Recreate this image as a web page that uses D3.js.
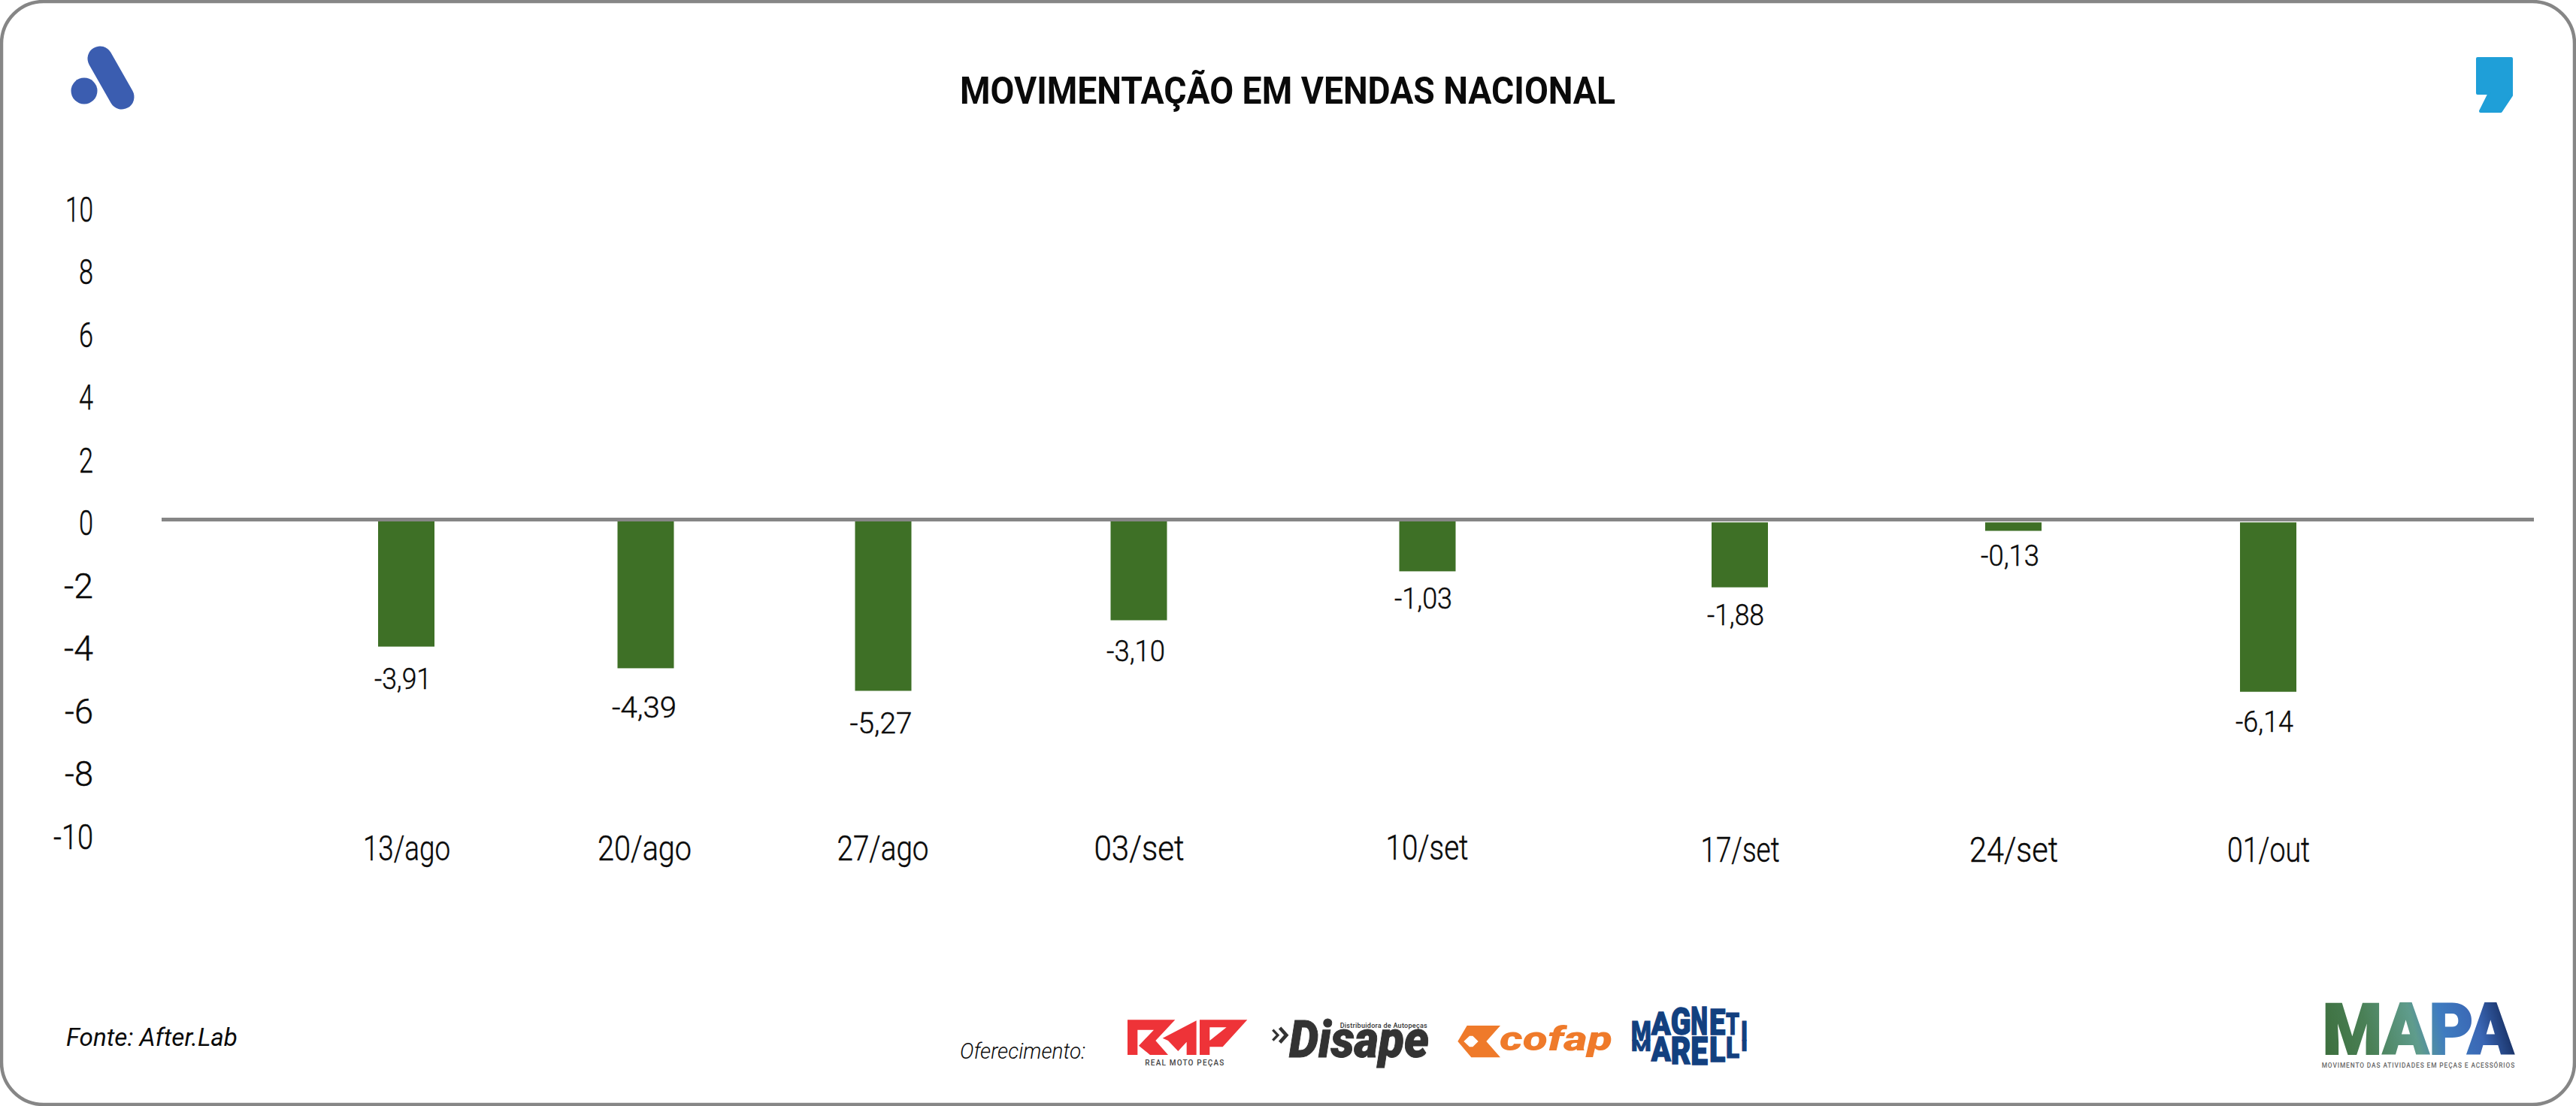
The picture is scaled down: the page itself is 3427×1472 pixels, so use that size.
<!DOCTYPE html>
<html lang="pt-BR">
<head>
<meta charset="utf-8">
<title>Movimentação em vendas nacional</title>
<script src="https://cdn.jsdelivr.net/npm/d3@7/dist/d3.min.js"></script>
<style>
html,body{margin:0;padding:0;background:#fff;}
svg{display:block;}
text{font-family:Roboto,"Open Sans",sans-serif;fill:#0a0a0a;}
.light{stroke:#0a0a0a;stroke-width:0.45px;}
</style>
</head>
<body>
<script>
// ---- DATA ----
const titleText = "MOVIMENTAÇÃO EM VENDAS NACIONAL";
const categories = ["13/ago","20/ago","27/ago","03/set","10/set","17/set","24/set","01/out"];
// printed value labels
const valueLabels = ["-3,91","-4,39","-5,27","-3,10","-1,03","-1,88","-0,13","-6,14"];
// drawn bar ends on the axis: in the source picture the bars do not follow their printed labels exactly
const barEnds = [-4.05,-4.74,-5.46,-3.21,-1.65,-2.16,-0.36,-5.49];
// drawn bar starts on the axis (the last three sit just under the zero line)
const barStarts = [0,0,0,0,0,-0.09,-0.09,-0.09];
const yTicks = [10,8,6,4,2,0,-2,-4,-6,-8,-10];

// ---- LAYOUT ----
const W = 3427, H = 1472;
const BAR_W = 75, GREEN = "#3e7026", GREY = "#868686";
const AX_LEFT = 215, AX_RIGHT = 3371;
const y = d3.scaleLinear().domain([-10,10]).range([1109,274]);
const x = d3.scaleOrdinal(categories,[540.5,859,1175,1515,1899,2314.5,2678.5,3017.5]);
const tickBase = d3.scaleOrdinal(categories,[1144.5,1144.5,1144.5,1144.5,1143.5,1146.5,1146.5,1146.5]);
const tickCx = d3.scaleOrdinal(categories,[0,-2,-1,0,-1,0,0,0]);
const tickLen = d3.scaleOrdinal(categories,[116,125,122,120,110,105,118,110]);
const labelCx = d3.scaleOrdinal(categories,[536,857,1172,1511,1893.5,2309,2674,3012.5]);
const labelBase = d3.scaleOrdinal(categories,[917,955,976,880,810,832,753,974]);
const labelLen = d3.scaleOrdinal(categories,[76,86,83,78,77,76,78,77]);
const yLabelLen = d3.scaleOrdinal(yTicks,[37,19,19,19,19,19,39,39,38,38,53]);

const svg = d3.select("body").append("svg").attr("width",W).attr("height",H).attr("viewBox",`0 0 ${W} ${H}`);
const defs = svg.append("defs");

// frame
svg.append("rect").attr("x",2).attr("y",2).attr("width",W-4).attr("height",H-4)
  .attr("rx",56).attr("ry",56).attr("fill","#fff").attr("stroke",GREY).attr("stroke-width",4.5);

// title
svg.append("text").attr("x",1713).attr("y",138).attr("text-anchor","middle")
  .attr("font-size",50).attr("font-weight",700).attr("textLength",872)
  .attr("lengthAdjust","spacingAndGlyphs").text(titleText);

// bars
svg.append("g").selectAll("rect").data(categories).join("rect")
  .attr("x",d=>x(d)-BAR_W/2)
  .attr("width",BAR_W)
  .attr("y",(d,i)=>y(barStarts[i]))
  .attr("height",(d,i)=>y(barEnds[i])-y(barStarts[i]))
  .attr("fill",GREEN);

// zero line
svg.append("line").attr("x1",AX_LEFT).attr("x2",AX_RIGHT).attr("y1",y(0)).attr("y2",y(0))
  .attr("stroke",GREY).attr("stroke-width",5);

// y axis
const gy = svg.append("g").attr("transform","translate(124,0)")
  .call(d3.axisLeft(y).tickValues(yTicks).tickSize(0).tickPadding(0).tickFormat(d=>String(d)));
gy.select(".domain").remove();
gy.selectAll("text").attr("x",0).attr("dy",20).attr("class","light")
  .attr("font-size",46).attr("font-weight",300).attr("font-family",null)
  .attr("textLength",d=>yLabelLen(d)).attr("lengthAdjust","spacingAndGlyphs");

// x axis
const gx = svg.append("g").attr("transform","translate(0,0)")
  .call(d3.axisBottom(x).tickSize(0).tickPadding(0));
gx.select(".domain").remove();
gx.selectAll("text").attr("x",d=>tickCx(d)).attr("y",d=>tickBase(d)).attr("dy",0).attr("class","light")
  .attr("font-size",46).attr("font-weight",300).attr("font-family",null)
  .attr("textLength",d=>tickLen(d)).attr("lengthAdjust","spacingAndGlyphs");

// value labels
svg.append("g").selectAll("text").data(categories).join("text")
  .attr("x",d=>labelCx(d)).attr("y",d=>labelBase(d)).attr("text-anchor","middle").attr("class","light")
  .attr("font-size",38).attr("font-weight",300)
  .attr("textLength",d=>labelLen(d)).attr("lengthAdjust","spacingAndGlyphs")
  .text((d,i)=>valueLabels[i]);

// footer text
svg.append("text").attr("x",88).attr("y",1392).attr("font-size",33).attr("font-style","italic")
  .attr("textLength",228).attr("lengthAdjust","spacingAndGlyphs").text("Fonte: After.Lab");
svg.append("text").attr("x",1277).attr("y",1409).attr("font-size",29).attr("font-style","italic").attr("font-weight",300)
  .attr("textLength",167).attr("lengthAdjust","spacingAndGlyphs").text("Oferecimento:");

// top-left logo
const LBLUE = "#3b5db0";
svg.append("circle").attr("cx",112).attr("cy",121).attr("r",17.5).attr("fill",LBLUE);
svg.append("line").attr("x1",133).attr("y1",78).attr("x2",162).attr("y2",129)
  .attr("stroke",LBLUE).attr("stroke-width",33).attr("stroke-linecap","round");

// top-right logo
svg.append("path").attr("d","M3296,78 L3341,78 L3341,127 L3327,148 L3300,148 L3312,124 L3296,124 Z")
  .attr("fill","#1f9fd8").attr("stroke","#1f9fd8").attr("stroke-width",4).attr("stroke-linejoin","round");

// RMP logo (3x units)
const rmp = svg.append("g").attr("transform","translate(1480,1330) scale(0.3333)");
[ "M60,82 L250,82 L172,165 L222,222 L150,222 L105,185 L165,122 L100,122 L100,222 L60,222 Z",
  "M335,85 L335,222 L296,222 L296,170 L262,207 L222,165 L200,155 Z",
  "M348,82 L538,82 L440,190 L388,190 L388,222 L348,222 Z M388,112 L388,165 L455,112 Z"
].forEach(p=>rmp.append("path").attr("d",p).attr("fill","#ee3338").attr("fill-rule","evenodd"));
rmp.append("text").attr("x",130).attr("y",265).attr("font-size",30).attr("font-weight",500)
  .attr("textLength",315).attr("style","fill:#444").text("REAL MOTO PEÇAS");

// Disape logo (3x units)
const dis = svg.append("g").attr("transform","translate(1480,1330) scale(0.3333)");
dis.append("text").attr("x",705).attr("y",230).attr("font-size",205).attr("font-weight",900).attr("font-style","italic")
  .attr("textLength",558).attr("lengthAdjust","spacingAndGlyphs")
  .attr("style","fill:#333;stroke:#333;stroke-width:3px").text("Disape");
dis.append("text").attr("x",908).attr("y",113).attr("font-size",27).attr("font-weight",500)
  .attr("textLength",348).attr("style","fill:#333").text("Distribuidora de Autopeças");
["M640,122 L660,143 L640,164","M668,114 L694,143 L668,172"].forEach((p,i)=>
  dis.append("path").attr("d",p).attr("fill","none").attr("stroke","#333").attr("stroke-width",i?14:10));

// cofap logo (3x units)
const cof = svg.append("g").attr("transform","translate(1920,1330) scale(0.3333)");
cof.append("path").attr("fill-rule","evenodd").attr("fill","#ef7a2a")
  .attr("d","M95,105 L228,105 L172,168 L228,232 L112,232 L58,168 Z M82,168 L105,146 L118,146 L140,168 L118,190 L105,190 Z");
cof.append("text").attr("x",225).attr("y",205).attr("font-size",135).attr("font-weight",900).attr("font-style","italic")
  .attr("textLength",450).attr("lengthAdjust","spacingAndGlyphs").attr("style","fill:#ef7a2a").text("cofap");

// Magneti Marelli logo: each letter is stretched to follow the arc of the badge (3x units)
const mmRows = [
  {text:"MAGNETI", tops:[85,50,32,28,36,52,85], bottoms:[165,140,140,140,140,140,165]},
  {text:"MARELLI", tops:[165,152,152,152,152,152,165], bottoms:[208,245,258,262,250,235,208]}
];
const mmX0 = [750,830,908,988,1062,1128,1188], mmX1 = [830,908,988,1056,1126,1182,1215];
const mm = svg.append("g").attr("transform","translate(1920,1330) scale(0.3333)");
mmRows.forEach(row=>{
  Array.from(row.text).forEach((ch,i)=>{
    const t = mm.append("text").attr("font-size",100).attr("font-weight",900)
      .attr("style","fill:#12407f;stroke:#12407f;stroke-width:3px").text(ch);
    const len = t.node().getComputedTextLength();
    const sx = (mmX1[i]-mmX0[i])/len, sy = (row.bottoms[i]-row.tops[i])/71.1;
    t.attr("transform",`translate(${mmX0[i]},${row.bottoms[i]}) scale(${sx},${sy})`);
  });
});

// MAPA logo (3x units)
const grad = defs.append("linearGradient").attr("id","mapa").attr("gradientUnits","userSpaceOnUse")
  .attr("x1",185).attr("y1",312).attr("x2",955).attr("y2",108);
[[0,"#3c6e3c"],[0.25,"#4a8056"],[0.48,"#5f9c8c"],[0.62,"#3f7cc0"],[0.8,"#3a66b4"],[1,"#0d1f4a"]].forEach(([o,c])=>
  grad.append("stop").attr("offset",o).attr("stop-color",c));
const mapa = svg.append("g").attr("transform","translate(3027,1300) scale(0.3333)");
mapa.append("text").attr("x",188).attr("y",310).attr("font-size",281).attr("font-weight",900)
  .attr("textLength",764).attr("lengthAdjust","spacingAndGlyphs")
  .attr("style","fill:url(#mapa);stroke:url(#mapa);stroke-width:6px").text("MAPA");
mapa.append("text").attr("x",185).attr("y",362).attr("font-size",25).attr("font-weight",500)
  .attr("textLength",770).attr("style","fill:#666").text("MOVIMENTO DAS ATIVIDADES EM PEÇAS E ACESSÓRIOS");
</script>
</body>
</html>
